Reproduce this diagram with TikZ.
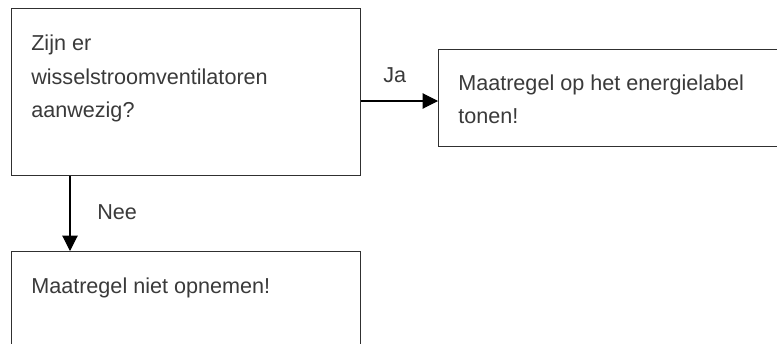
\documentclass[tikz,border=0pt]{standalone}
\usepackage{fontspec}
\setmainfont{Liberation Sans}
\usetikzlibrary{arrows.meta}
\definecolor{txt}{HTML}{3A3A3A}
\definecolor{edge}{HTML}{303030}
\begin{document}
\begin{tikzpicture}[x=0.75pt,y=-0.75pt,
  box/.style={draw=edge,line width=0.9pt,anchor=north west,inner sep=0pt},
  lbl/.style={anchor=base west,inner sep=0pt,text=txt,font=\fontsize{16.2}{20}\selectfont},
  arr/.style={line width=0.8pt,-{Triangle[length=11.5pt,width=11.5pt]}}]
\clip (0,0) rectangle (777,343);
\fill[white] (0,0) rectangle (777,343);
% boxes
\node[box,minimum width=261.75pt,minimum height=125.25pt] (q) at (11,8) {};
\node[box,minimum width=271.5pt,minimum height=72.75pt] (a) at (438,49) {};
\node[box,minimum width=261.75pt,minimum height=90pt] (n) at (11,251) {};
% texts
\node[lbl] (q1) at (31,50) {Zijn er};
\node[lbl] (q2) at (31,84) {wisselstroomventilatoren};
\node[lbl] (q3) at (31,117) {aanwezig?};
\node[lbl] (a1) at (458,90) {Maatregel op het energielabel};
\node[lbl] (a2) at (458,123) {tonen!};
\node[lbl] (n1) at (31,293) {Maatregel niet opnemen!};
% connectors
\coordinate (jy) at (0,101);
\coordinate (nx) at (70,0);
\draw[arr] (q.east |- jy) -- (a.west |- jy);
\draw[arr] (q.south -| nx) -- (n.north -| nx);
\node[lbl] (ja) at (383,82) {Ja};
\node[lbl] (nee) at (97,219) {Nee};
\end{tikzpicture}
\end{document}
